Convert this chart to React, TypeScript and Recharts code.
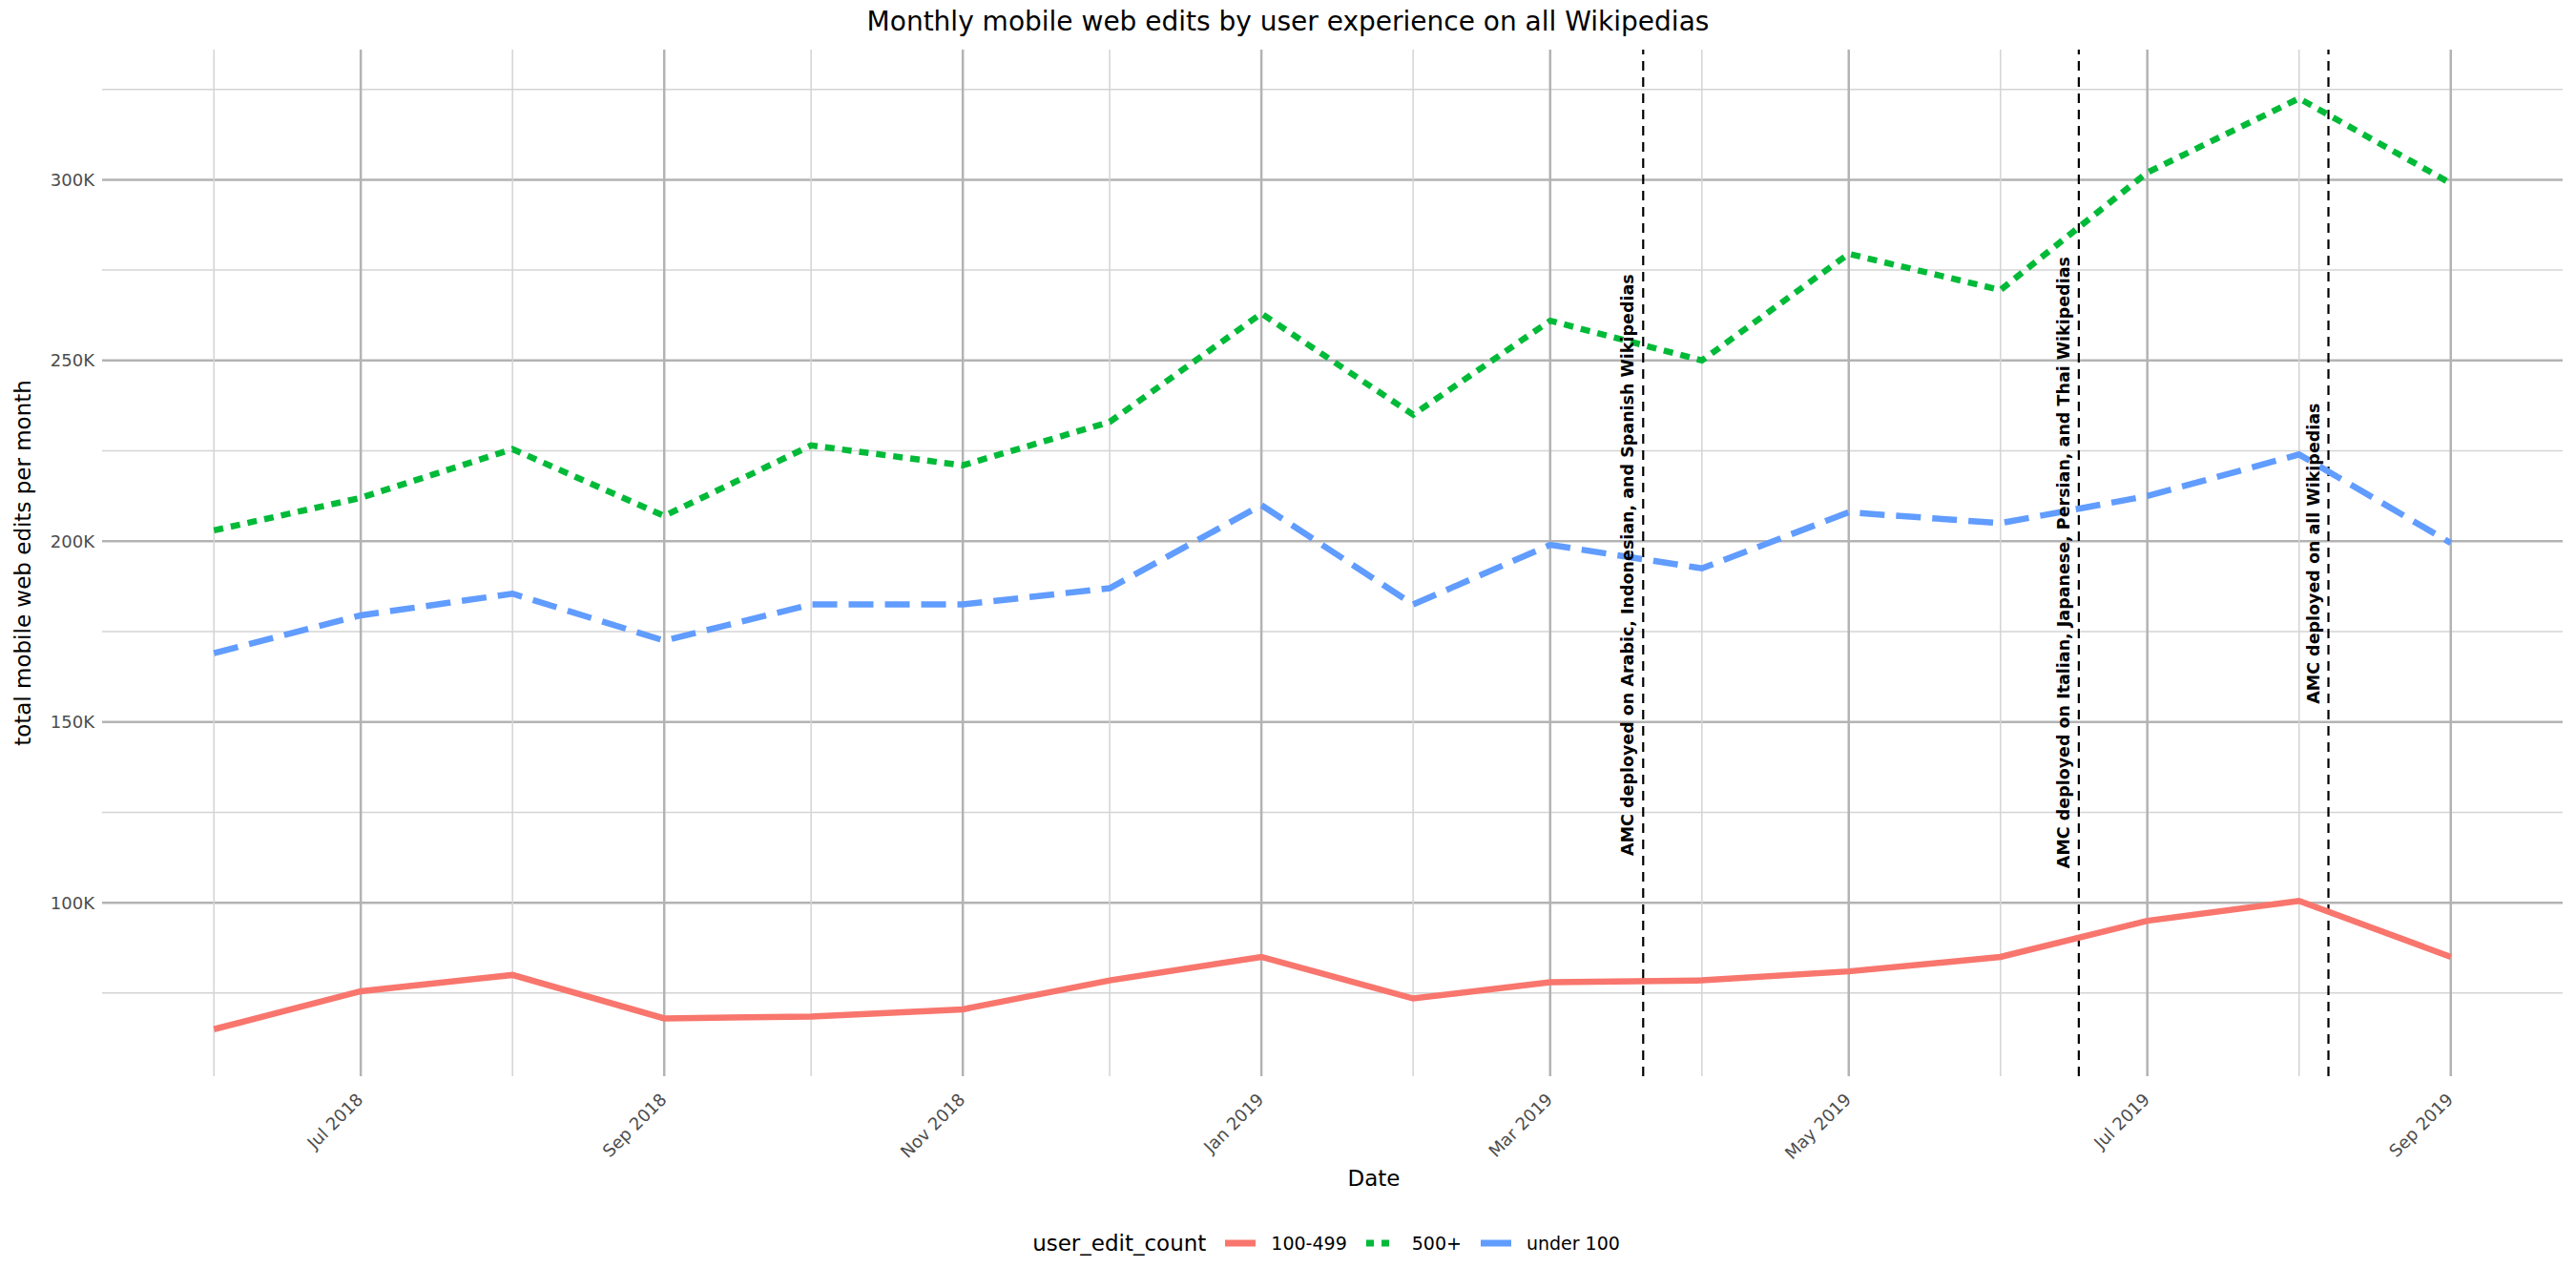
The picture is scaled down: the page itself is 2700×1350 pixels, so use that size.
import React from 'react';
import { LineChart, Line, XAxis, YAxis, ReferenceLine, ReferenceDot } from 'recharts';

const months = ['2018-06', '2018-07', '2018-08', '2018-09', '2018-10', '2018-11', '2018-12', '2019-01', '2019-02', '2019-03', '2019-04', '2019-05', '2019-06', '2019-07', '2019-08', '2019-09'];
const edits500 = [203000, 212000, 225500, 207000, 226500, 221000, 233000, 263000, 235000, 261000, 250000, 279500, 269500, 302000, 322500, 299000];
const editsUnder100 = [169000, 179500, 185500, 172500, 182500, 182500, 187000, 210000, 182500, 199000, 192500, 208000, 205000, 212500, 224000, 199500];
const edits100 = [65000, 75500, 80000, 68000, 68500, 70500, 78500, 85000, 73500, 78000, 78500, 81000, 85000, 95000, 100500, 85000];

const majorTicks = ['2018-07', '2018-09', '2018-11', '2019-01', '2019-03', '2019-05', '2019-07', '2019-09'];
const minorTicks = ['2018-06', '2018-08', '2018-10', '2018-12', '2019-02', '2019-04', '2019-06', '2019-08'];
const yMajor = [100000, 150000, 200000, 250000, 300000];
const yMinor = [75000, 125000, 175000, 225000, 275000, 325000];

const deployments = [
  { date: '2019-03-20', y: 113000, text: 'AMC deployed on Arabic, Indonesian, and Spanish Wikipedias' },
  { date: '2019-06-17', y: 109500, text: 'AMC deployed on Italian, Japanese, Persian, and Thai Wikipedias' },
  { date: '2019-08-07', y: 155000, text: 'AMC deployed on all Wikipedias' },
];

const MONTH_NAMES = ['Jan', 'Feb', 'Mar', 'Apr', 'May', 'Jun', 'Jul', 'Aug', 'Sep', 'Oct', 'Nov', 'Dec'];
const ts = (s: string) => Date.UTC(+s.slice(0, 4), +s.slice(5, 7) - 1, s.length > 7 ? +s.slice(8, 10) : 1);

const data = months.map((m, i) => ({ t: ts(m), a: edits100[i], b: edits500[i], c: editsUnder100[i] }));
const t0 = ts(months[0]);
const t1 = ts(months[months.length - 1]);
const pad = (t1 - t0) * 0.05;

const fmtDate = (v: number) => {
  const d = new Date(v);
  return `${MONTH_NAMES[d.getUTCMonth()]} ${d.getUTCFullYear()}`;
};

const font = 'DejaVu Sans, sans-serif';

const XTick = (props: any) => {
  const { x, y, payload } = props;
  return (
    <text x={x} y={y + 14} transform={`rotate(-45, ${x}, ${y + 14})`} textAnchor="end" dominantBaseline="middle"
      fontSize={18} fill="#4d4d4d" fontFamily={font}>
      {fmtDate(payload.value)}
    </text>
  );
};

const LegendItem = ({ color, dash, label }: { color: string; dash?: string; label: string }) => (
  <div style={{ display: 'flex', alignItems: 'center', marginLeft: 18 }}>
    <svg width={36} height={12}>
      <line x1={2} y1={6} x2={34} y2={6} stroke={color} strokeWidth={7} strokeDasharray={dash} />
    </svg>
    <span style={{ marginLeft: 14, fontSize: 19 }}>{label}</span>
  </div>
);

export default function App() {
  return (
    <div style={{ position: 'absolute', left: 0, top: 0, width: 2700, height: 1350, background: '#fff', fontFamily: font, color: '#000' }}>
      <div style={{ position: 'absolute', top: 6, width: 2700, textAlign: 'center', fontSize: 28 }}>
        Monthly mobile web edits by user experience on all Wikipedias
      </div>
      <div style={{ position: 'absolute', left: 24, top: 590, transform: 'translate(-50%, -50%) rotate(-90deg)', fontSize: 23, whiteSpace: 'nowrap' }}>
        total mobile web edits per month
      </div>
      <div style={{ position: 'absolute', top: 1222, width: 2700, textAlign: 'center', fontSize: 23, paddingLeft: 90 }}>
        Date
      </div>
      <div style={{ position: 'absolute', top: 1290, width: 2700, display: 'flex', justifyContent: 'center', paddingLeft: 40 }}>
        <span style={{ fontSize: 23 }}>user_edit_count</span>
        <LegendItem color="#F8766D" label="100-499" />
        <LegendItem color="#00BA38" dash="8 8" label="500+" />
        <LegendItem color="#619CFF" label="under 100" />
      </div>
      <LineChart width={2700} height={1350} data={data} margin={{ top: 52, right: 14, bottom: 192, left: 0 }} style={{ position: 'absolute', left: 0, top: 0 }}>
        <XAxis dataKey="t" type="number" scale="time" domain={[t0 - pad, t1 + pad]} ticks={majorTicks.map(ts)} height={30}
          tick={<XTick />} axisLine={false} tickLine={false} interval={0} />
        <YAxis type="number" domain={[52000, 336000]} ticks={yMajor} width={107} axisLine={false} tickLine={false}
          tickFormatter={(v: number) => `${v / 1000}K`} tick={{ fontSize: 18, fill: '#4d4d4d', fontFamily: font }} />
        {yMinor.map((v) => <ReferenceLine key={'ym' + v} y={v} stroke="#d4d4d4" strokeWidth={1.5} />)}
        {yMajor.map((v) => <ReferenceLine key={'yM' + v} y={v} stroke="#b3b3b3" strokeWidth={2.5} />)}
        {minorTicks.map((m) => <ReferenceLine key={'xm' + m} x={ts(m)} stroke="#d4d4d4" strokeWidth={1.5} />)}
        {majorTicks.map((m) => <ReferenceLine key={'xM' + m} x={ts(m)} stroke="#b3b3b3" strokeWidth={2.5} />)}
        {deployments.map((d) => <ReferenceLine key={'d' + d.date} x={ts(d.date)} stroke="#000" strokeWidth={2.2} strokeDasharray="10 7" />)}
        <Line dataKey="a" stroke="#F8766D" strokeWidth={6.5} dot={false} isAnimationActive={false} />
        <Line dataKey="b" stroke="#00BA38" strokeWidth={6.5} strokeDasharray="10 8" dot={false} isAnimationActive={false} />
        <Line dataKey="c" stroke="#619CFF" strokeWidth={6.5} strokeDasharray="26 12" dot={false} isAnimationActive={false} />
        {deployments.map((d) => (
          <ReferenceDot key={'t' + d.date} x={ts(d.date)} y={d.y} r={0}
            shape={(p: any) => (
              <text x={p.cx} y={p.cy} dy={-10} transform={`rotate(-90, ${p.cx}, ${p.cy})`} textAnchor="start"
                fontSize={17.5} fontWeight="bold" fill="#000" fontFamily={font}>{d.text}</text>
            )} />
        ))}
      </LineChart>
    </div>
  );
}
